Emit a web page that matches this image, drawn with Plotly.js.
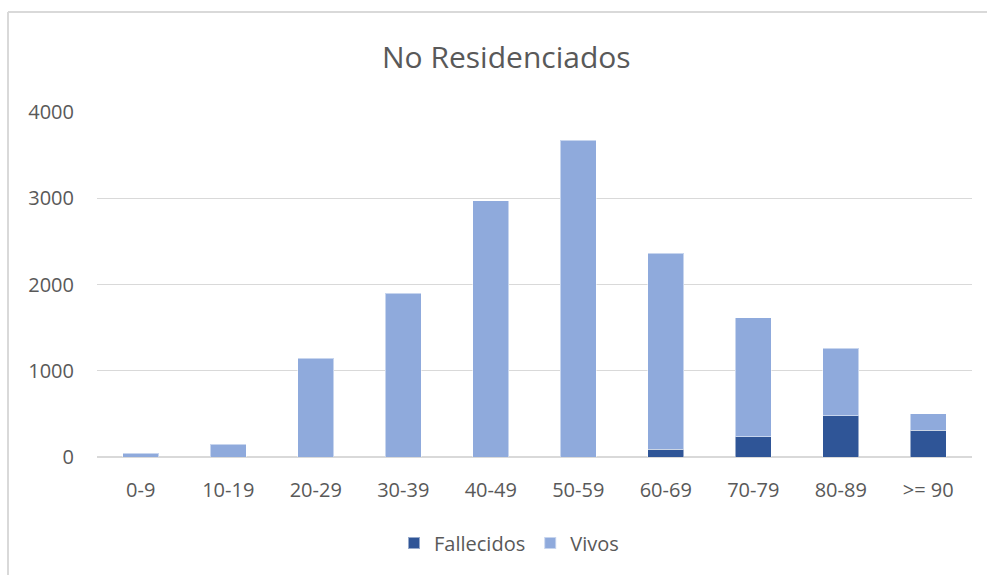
<!DOCTYPE html>
<html>
<head>
<meta charset="utf-8">
<script src="https://cdn.plot.ly/plotly-3.0.1.min.js"></script>
<style>
html,body{margin:0;padding:0;background:#fff;}
#chart{width:987px;height:575px;}
</style>
</head>
<body>
<div id="chart"></div>
<script>
const categories = ["0-9","10-19","20-29","30-39","40-49","50-59","60-69","70-79","80-89",">= 90"];
const fallecidos = [0, 0, 0, 0, 0, 0, 89, 236, 476, 310];
const vivos = [43, 147, 1145, 1900, 2973, 3674, 2274, 1380, 785, 192];
const yTicks = [0, 1000, 2000, 3000, 4000];

const textColor = "#595959";
const fontFam = "'Open Sans', 'Noto Sans', sans-serif";

const traces = [
  {type: "bar", name: "Fallecidos", x: categories, y: fallecidos,
   marker: {color: "#2F5597", line: {color: "rgba(255,255,255,0.5)", width: 1}}, hoverinfo: "x+y+name"},
  {type: "bar", name: "Vivos", x: categories, y: vivos,
   marker: {color: "#8FAADC", line: {color: "rgba(255,255,255,0.5)", width: 1}}, hoverinfo: "x+y+name"}
];

const layout = {
  width: 987, height: 575,
  barmode: "stack",
  bargap: 0.59,
  paper_bgcolor: "#ffffff",
  plot_bgcolor: "#ffffff",
  margin: {l: 97, r: 15, t: 112, b: 118},
  font: {family: fontFam, color: textColor, size: 20},
  title: {text: "No Residenciados", x: 0.513, xref: "container", xanchor: "center",
          y: 1 - 57/575, yref: "container", yanchor: "middle",
          font: {family: fontFam, size: 30, color: textColor}},
  xaxis: {type: "category", showgrid: false, zeroline: false, showline: false, ticks: "",
          ticklabelstandoff: 19, tickfont: {size: 20, color: textColor}},
  yaxis: {range: [0, 4000], tickvals: yTicks, ticktext: yTicks.map(String),
          showgrid: true, gridcolor: "#D9D9D9", gridwidth: 1.3,
          zeroline: true, zerolinecolor: "#D9D9D9", zerolinewidth: 1.3,
          showline: false, ticks: "", ticklabelstandoff: 22,
          tickfont: {size: 20, color: textColor}},
  legend: {orientation: "h", x: (509 - 97) / 875, xanchor: "center",
           y: (457 - 543) / 345, yanchor: "middle",
           font: {size: 20, color: textColor}, traceorder: "normal",
           itemsizing: "constant"},
  shapes: [
    {type: "line", xref: "paper", yref: "paper", x0: (8 - 97) / 875, x1: 1.3,
     y0: (457 - 12) / 345, y1: (457 - 12) / 345, line: {color: "#D9D9D9", width: 2}},
    {type: "line", xref: "paper", yref: "paper", x0: (8 - 97) / 875, x1: (8 - 97) / 875,
     y0: (457 - 12) / 345, y1: -0.6, line: {color: "#D9D9D9", width: 2}}
  ],
  showlegend: true
};

Plotly.newPlot("chart", traces, layout, {displayModeBar: false, staticPlot: true});
</script>
</body>
</html>
